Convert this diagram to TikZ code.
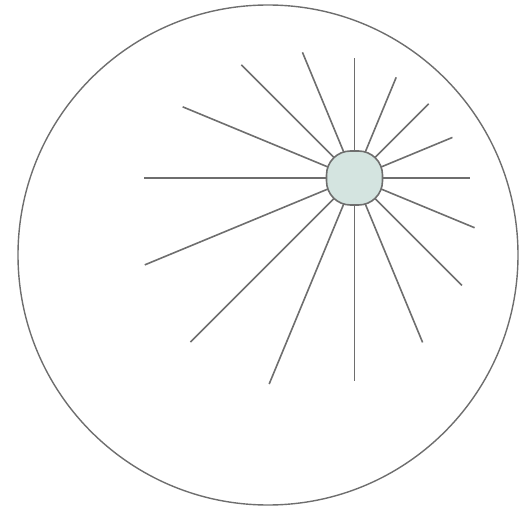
\documentclass[tikz,border=0pt]{standalone}
\usetikzlibrary{calc,backgrounds}
\definecolor{spokegray}{HTML}{6E6E6E}
\definecolor{hubfill}{HTML}{D4E4E0}
\begin{document}
\begin{tikzpicture}[
  x=1pt,y=1pt,
  rim/.style={draw=spokegray,line width=1.4pt},
  hubbox/.style={draw=spokegray,fill=hubfill,line width=1.6pt,rounded corners=24pt,
    minimum width=56pt,minimum height=54pt,inner sep=0pt},
  spoke/.style={spokegray,line width=1.6pt}
]
\useasboundingbox (0,0) rectangle (530,507);
\draw[rim] (268,252) circle (250pt);
\node[hubbox] (hub) at (354.5,329) {};
% spoke tips: angle/length from the hub centre
\foreach \ang/\len [count=\i] in {90/120,67.5/109,45/105,22.5/106,0/115.5,-22.5/130,
    -45/152,-67.5/178,-90/203,-112.5/223,-135/232,-157.5/227,180/210.5,157.5/186,
    135/160,112.5/136}
  \coordinate (tip\i) at ($(hub.center)+(\ang:\len)$);
\begin{scope}[on background layer]
  \foreach \i in {1,...,16}
    \draw[spoke] (hub.center) -- (tip\i);
\end{scope}
\end{tikzpicture}
\end{document}
